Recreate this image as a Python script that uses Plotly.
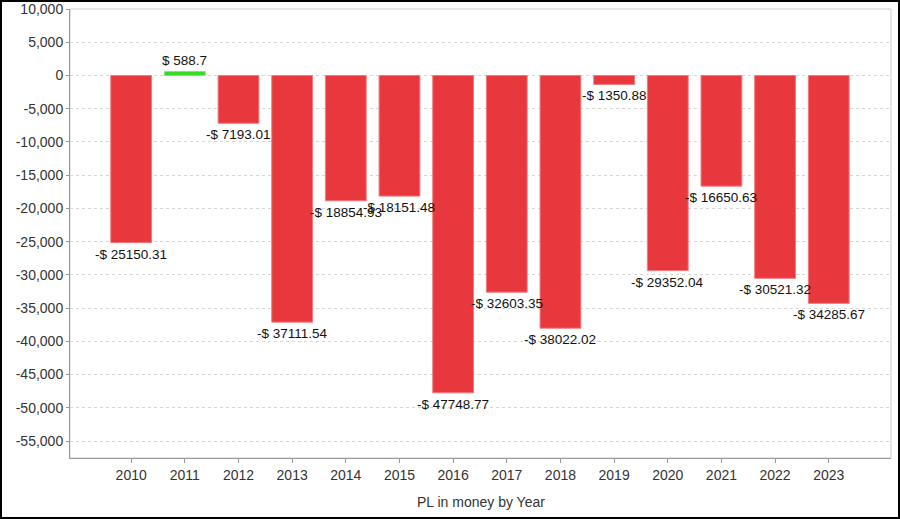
import plotly.graph_objects as go

years = ["2010", "2011", "2012", "2013", "2014", "2015", "2016",
         "2017", "2018", "2019", "2020", "2021", "2022", "2023"]
pl_values = [-25150.31, 588.7, -7193.01, -37111.54, -18854.93, -18151.48, -47748.77,
             -32603.35, -38022.02, -1350.88, -29352.04, -16650.63, -30521.32, -34285.67]
y_ticks = [10000, 5000, 0, -5000, -10000, -15000, -20000, -25000, -30000,
           -35000, -40000, -45000, -50000, -55000]

RED = "#e8383d"
GREEN = "#33dd22"
FONT = "Liberation Sans, Arial, sans-serif"

def money(v):
    s = f"{abs(v):.2f}".rstrip("0").rstrip(".")
    return ("-$ " if v < 0 else "$ ") + s

def tick_label(v):
    return f"{v:,}"

colors = [GREEN if v >= 0 else RED for v in pl_values]
xs = list(range(len(years)))

fig = go.Figure()
fig.add_trace(go.Bar(
    x=xs, y=pl_values, width=0.76,
    marker=dict(color=colors, line=dict(color=["#7de86f" if v >= 0 else "#f07a7e" for v in pl_values], width=1)),
    hoverinfo="skip",
))

annotations = []
for x, v in zip(xs, pl_values):
    annotations.append(dict(
        x=x, y=v, xref="x", yref="y", text=money(v), showarrow=False,
        yanchor="top" if v < 0 else "bottom",
        yshift=-2 if v < 0 else 2,
        font=dict(family=FONT, size=13.5, color="#111111"),
    ))

annotations.append(dict(
    x=0.5, y=0, xref="paper", yref="paper", text="PL in money by Year",
    showarrow=False, yanchor="middle", yshift=-44,
    font=dict(family=FONT, size=14, color="#333333"),
))

L, R, T, B = 70, 9, 9, 61
W, H = 900, 519
pw, ph = W - L - R, H - T - B

def px_x(p):
    return (p - L) / pw

def px_y(p):
    return (H - B - p) / ph

shapes = [
    dict(type="rect", xref="paper", yref="paper", x0=0, x1=1, y0=0, y1=1,
         line=dict(color="#cccccc", width=1), layer="below"),
    dict(type="rect", xref="paper", yref="paper",
         x0=px_x(1), x1=px_x(899), y0=px_y(518), y1=px_y(1),
         line=dict(color="#000000", width=2)),
]

fig.update_layout(
    width=W, height=H, autosize=False,
    margin=dict(l=L, r=R, t=T, b=B, pad=0, autoexpand=False),
    paper_bgcolor="white", plot_bgcolor="white",
    showlegend=False,
    annotations=annotations,
    shapes=shapes,
    font=dict(family=FONT, size=13, color="#333333"),
)
fig.update_xaxes(
    range=[-1.14, 14.16], tickvals=xs, ticktext=years,
    showgrid=False, zeroline=False, automargin=False,
    showline=True, linecolor="#999999", linewidth=1,
    ticks="outside", ticklen=4, tickcolor="#999999",
    tickfont=dict(family=FONT, size=14, color="#333333"),
)
fig.update_yaxes(
    range=[-57550, 10000], tickvals=y_ticks, ticktext=[tick_label(v) for v in y_ticks],
    showgrid=True, gridcolor="#d6d6d6", griddash="3px,3px", gridwidth=1,
    zeroline=False, automargin=False,
    showline=True, linecolor="#999999", linewidth=1,
    ticks="outside", ticklen=3, tickcolor="#999999",
    tickfont=dict(family=FONT, size=14, color="#333333"),
)

fig.write_html("out.html", config={"displayModeBar": False},
               post_script="document.body.style.margin='0';document.body.style.padding='0';document.body.style.overflow='hidden';")
